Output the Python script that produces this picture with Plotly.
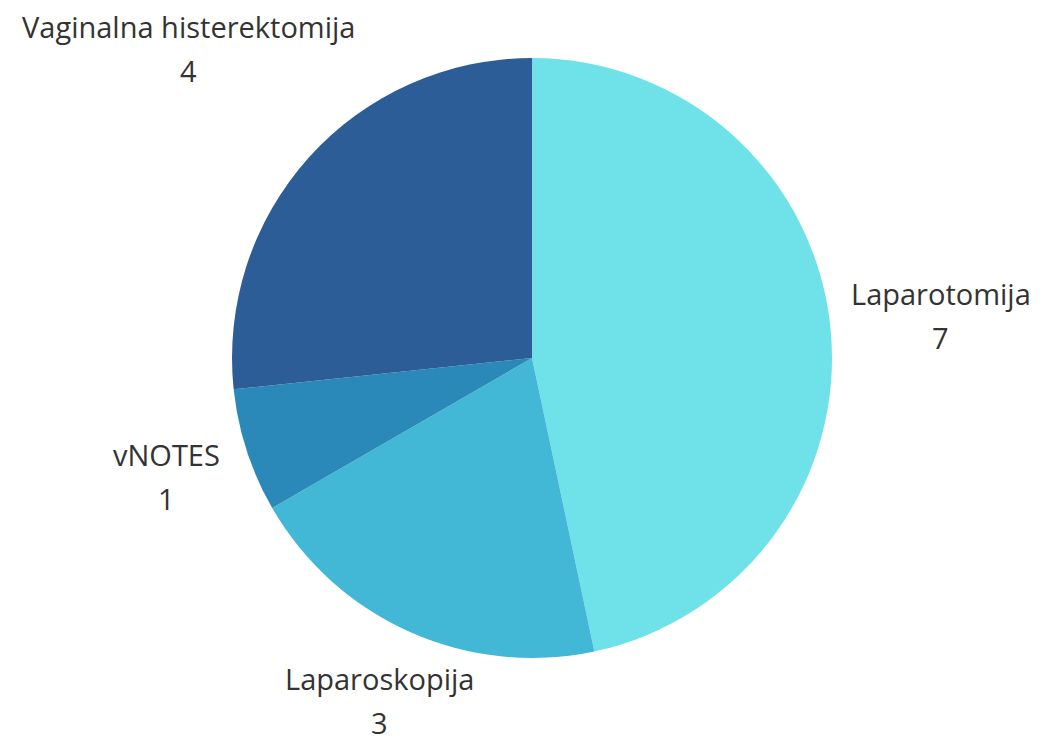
import math
import plotly.graph_objects as go

# Data
labels = ["Laparotomija", "Laparoskopija", "vNOTES", "Vaginalna histerektomija"]
values = [7, 3, 1, 4]
colors = ["#6EE2E8", "#42B7D6", "#2B89BA", "#2D5D96"]

W, H = 1046, 744
cx, cy, R = 532, 358, 300  # pie centre / radius in pixels (layout)
label_r = [1.37, 1.25, 1.28, 1.54]  # label distance from centre, as a multiple of R (layout)
line_gap = 22

fig = go.Figure(go.Pie(
    labels=labels,
    values=values,
    marker=dict(colors=colors, line=dict(width=0)),
    sort=False,
    direction="clockwise",
    rotation=0,
    textinfo="none",
    hoverinfo="label+value",
    showlegend=False,
    domain=dict(x=[(cx - R) / W, (cx + R) / W], y=[1 - (cy + R) / H, 1 - (cy - R) / H]),
))

total = sum(values)
cum = 0
font = dict(family="Open Sans", size=29, color="#333333")
for lab, v, k in zip(labels, values, label_r):
    mid = (cum + v / 2) / total * 2 * math.pi
    cum += v
    px = cx + k * R * math.sin(mid)
    py = cy - k * R * math.cos(mid)
    xp, yp = px / W, 1 - py / H
    fig.add_annotation(x=xp, y=yp, xref="paper", yref="paper", text=lab, showarrow=False,
                       font=font, xanchor="center", yanchor="middle", yshift=line_gap)
    fig.add_annotation(x=xp, y=yp, xref="paper", yref="paper", text=str(v), showarrow=False,
                       font=font, xanchor="center", yanchor="middle", yshift=-line_gap)

fig.update_layout(
    width=W, height=H,
    margin=dict(l=0, r=0, t=0, b=0),
    paper_bgcolor="white",
    plot_bgcolor="white",
)

fig.write_html("out.html", config={"displayModeBar": False},
               post_script="document.body.style.margin='0px';")
